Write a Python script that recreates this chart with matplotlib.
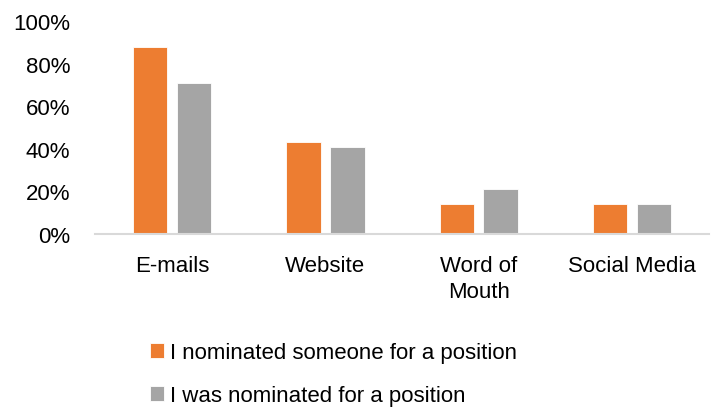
import matplotlib.pyplot as plt
import numpy as np
from matplotlib.ticker import PercentFormatter

plt.rcParams['font.family'] = ['Liberation Sans', 'DejaVu Sans']

# Share of respondents by channel
channels = ['E-mails', 'Website', 'Word of\nMouth', 'Social Media']
nominated_someone = [88, 43, 14, 14]
was_nominated = [71, 41, 21, 14]
series_labels = ['I nominated someone for a position', 'I was nominated for a position']

orange = '#ED7D31'
grey = '#A5A5A5'

fig = plt.figure(figsize=(7.11, 4.10), dpi=100)
ax = fig.add_axes([0.134, 0.427, 0.863, 0.519])

x = np.arange(len(channels))
width = 0.225
offset = 0.143

b1 = ax.bar(x - offset, nominated_someone, width, color=orange, edgecolor='white', linewidth=0.6)
b2 = ax.bar(x + offset, was_nominated, width, color=grey, edgecolor='white', linewidth=0.6)

ax.set_xlim(-0.5, 3.5)
ax.set_ylim(0, 100)
ax.set_yticks(range(0, 101, 20))
ax.yaxis.set_major_formatter(PercentFormatter(decimals=0))
ax.set_xticks(x)
ax.set_xticklabels(channels, fontsize=16, linespacing=1.35)
ax.tick_params(axis='y', labelsize=16, length=0, pad=18)
ax.tick_params(axis='x', length=0, pad=15)

for side in ['top', 'right', 'left']:
    ax.spines[side].set_visible(False)
ax.spines['bottom'].set_color('#D9D9D9')
ax.spines['bottom'].set_linewidth(1.5)

fig.legend([b1, b2], series_labels, loc='upper left', bbox_to_anchor=(0.198, 0.185),
           frameon=False, fontsize=16, handlelength=0.65, handleheight=0.65,
           handletextpad=0.25, labelspacing=1.0, borderaxespad=0)

fig.savefig('out.png', dpi=100)
